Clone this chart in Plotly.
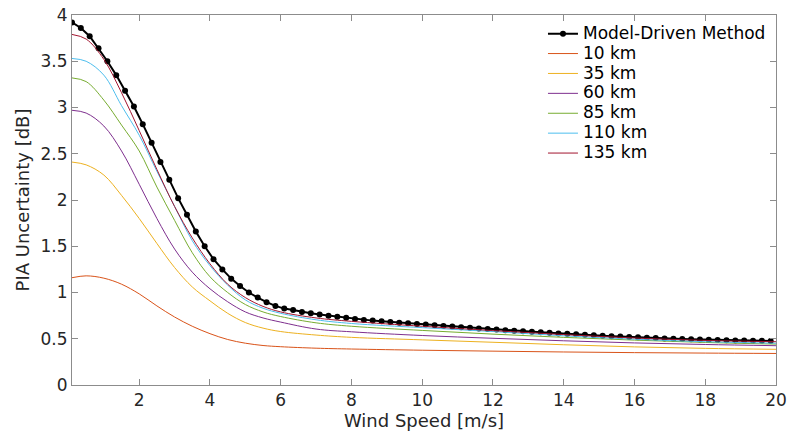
import plotly.graph_objects as go

# ---- data ----
model_x = [round(0.1 + 0.25 * k, 2) for k in range(80)]
model_y = [3.92, 3.86, 3.77, 3.64, 3.50, 3.35, 3.18, 3.01, 2.82, 2.62,
           2.41, 2.22, 2.02, 1.84, 1.66, 1.50, 1.36, 1.25, 1.15, 1.07,
           1.00, 0.945, 0.895, 0.855, 0.826, 0.810, 0.790, 0.776, 0.762, 0.750,
           0.738, 0.727, 0.713, 0.704, 0.696, 0.688, 0.681, 0.674, 0.667, 0.660,
           0.653, 0.646, 0.639, 0.632, 0.625, 0.618, 0.612, 0.605, 0.599, 0.593,
           0.587, 0.581, 0.575, 0.569, 0.564, 0.558, 0.553, 0.548, 0.543, 0.538,
           0.533, 0.528, 0.524, 0.519, 0.515, 0.511, 0.507, 0.503, 0.500, 0.497,
           0.494, 0.491, 0.488, 0.486, 0.484, 0.482, 0.480, 0.479, 0.478, 0.477]

wind_x = [0.1, 0.5, 1.0, 1.5, 2.0, 2.5, 3.0, 3.5, 4.0, 4.5, 5.0, 5.5, 6.0,
          7.0, 8.0, 10.0, 12.0, 14.0, 16.0, 18.0, 20.0]

km10 = [1.16, 1.18, 1.155, 1.09, 0.985, 0.855, 0.735, 0.635, 0.555, 0.492, 0.452,
        0.427, 0.414, 0.398, 0.389, 0.376, 0.366, 0.357, 0.350, 0.345, 0.341]
km35 = [2.41, 2.38, 2.27, 2.05, 1.80, 1.53, 1.27, 1.06, 0.91, 0.775, 0.675,
        0.615, 0.578, 0.540, 0.515, 0.488, 0.462, 0.435, 0.412, 0.396, 0.386]
km60 = [2.97, 2.94, 2.80, 2.53, 2.17, 1.80, 1.47, 1.22, 1.04, 0.90, 0.79,
        0.725, 0.68, 0.605, 0.575, 0.535, 0.505, 0.478, 0.455, 0.438, 0.425]
km85 = [3.32, 3.28, 3.08, 2.81, 2.53, 2.14, 1.78, 1.43, 1.17, 1.00, 0.87,
        0.79, 0.74, 0.672, 0.635, 0.590, 0.550, 0.515, 0.485, 0.460, 0.442]
km110 = [3.53, 3.50, 3.35, 3.02, 2.70, 2.31, 1.93, 1.56, 1.29, 1.08, 0.92,
         0.83, 0.775, 0.705, 0.665, 0.620, 0.578, 0.532, 0.495, 0.468, 0.452]
km135 = [3.79, 3.74, 3.52, 3.16, 2.75, 2.33, 1.93, 1.59, 1.31, 1.09, 0.945,
         0.85, 0.79, 0.725, 0.688, 0.635, 0.588, 0.545, 0.508, 0.482, 0.468]

series_names = ["10 km", "35 km", "60 km", "85 km", "110 km", "135 km"]
series_vals = [km10, km35, km60, km85, km110, km135]
series_colors = ["#D95319", "#EDB120", "#7E2F8E", "#77AC30", "#4DBEEE", "#A2142F"]

x_ticks = [2, 4, 6, 8, 10, 12, 14, 16, 18, 20]
y_ticks = [0, 0.5, 1, 1.5, 2, 2.5, 3, 3.5, 4]
y_ticklabels = ["0", "0.5", "1", "1.5", "2", "2.5", "3", "3.5", "4"]


def legend_label(text):
    return '<span style="font-size:17px">' + text + '</span>'


# ---- figure ----
fig = go.Figure()
fig.add_trace(go.Scatter(
    x=model_x, y=model_y, name=legend_label("Model-Driven Method"), mode="lines+markers",
    line=dict(color="black", width=2), marker=dict(color="black", size=6, symbol="circle")))
for name, vals, col in zip(series_names, series_vals, series_colors):
    fig.add_trace(go.Scatter(
        x=wind_x, y=vals, name=legend_label(name), mode="lines",
        line=dict(color=col, width=1, shape="spline", smoothing=1.0)))

axis_common = dict(
    showline=True, linecolor="#8c8c8c", linewidth=1, mirror="allticks",
    ticks="inside", ticklen=6, tickcolor="#8c8c8c", showgrid=False, zeroline=False,
    tickfont=dict(family="DejaVu Sans", size=17, color="#262626"),
    automargin=False, ticklabeloverflow="allow",
)
fig.update_xaxes(range=[0.1, 20], tickvals=x_ticks,
                 title=dict(text="Wind Speed [m/s]", font=dict(family="DejaVu Sans", size=18, color="#262626"), standoff=4),
                 **axis_common)
fig.update_yaxes(range=[0, 4], tickvals=y_ticks, ticktext=y_ticklabels,
                 title=dict(text="PIA Uncertainty [dB]", font=dict(family="DejaVu Sans", size=18, color="#262626"), standoff=6),
                 **axis_common)
fig.update_layout(
    width=789, height=437,
    margin=dict(l=72, r=13, t=15, b=52),
    paper_bgcolor="white", plot_bgcolor="white",
    font=dict(family="DejaVu Sans", color="#262626"),
    legend=dict(x=0.669, y=0.99, xanchor="left", yanchor="top",
                bgcolor="rgba(255,255,255,0)", borderwidth=0,
                font=dict(family="DejaVu Sans", size=13, color="black"),
                tracegroupgap=0, itemwidth=30),
    showlegend=True,
)
# remove the default page margin so the figure fills the window exactly
fig.write_html("out.html",
               config={"displayModeBar": False},
               post_script="document.body.style.margin='0';document.body.style.overflow='hidden';")
